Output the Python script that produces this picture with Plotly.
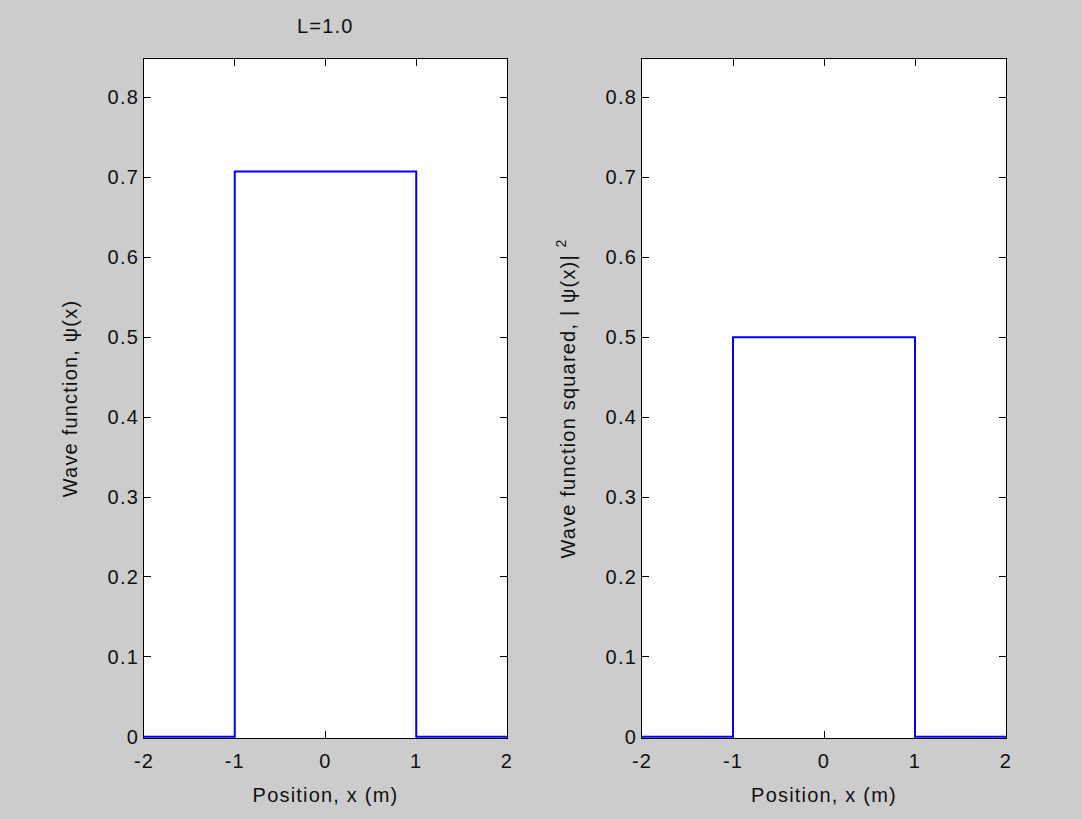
import plotly.graph_objects as go

x_vals = [-2, -1, -1, 1, 1, 2]
psi_vals = [0, 0, 0.7071, 0.7071, 0, 0]
psi_sq_vals = [0, 0, 0.5, 0.5, 0, 0]
x_ticks = [-2, -1, 0, 1, 2]
x_tick_labels = ["-2", "-1", "0", "1", "2"]
y_ticks = [0, 0.1, 0.2, 0.3, 0.4, 0.5, 0.6, 0.7, 0.8]
title_text = "L=1.0"
xlabel = "Position, x (m)"
ylabel_left = "Wave function, ψ(x)"
ylabel_right = "Wave function squared, | ψ(x)| <sup>2</sup>"

W, H = 1082, 819
L, R, T, B = 144, 76, 59, 81
pw = W - L - R
d1 = (507 - L) / pw
d2 = (642 - L) / pw
y_range = [-0.0015, 0.848]

fig = go.Figure()
fig.add_trace(go.Scatter(x=x_vals, y=psi_vals, mode="lines",
                         line=dict(color="#0000ff", width=2), xaxis="x", yaxis="y"))
fig.add_trace(go.Scatter(x=x_vals, y=psi_sq_vals, mode="lines",
                         line=dict(color="#0000ff", width=2), xaxis="x2", yaxis="y2"))

font = dict(family="Liberation Sans, Arial, sans-serif", size=20, color="#111111")
ax_common = dict(showline=True, linecolor="black", linewidth=1, mirror="ticks",
                 ticks="inside", ticklen=7, tickcolor="black", showgrid=False,
                 zeroline=False, tickfont=font, layer="below traces")

xa = dict(range=[-2, 2], tickvals=x_ticks, ticktext=x_tick_labels, ticklabelstandoff=5,
          title=dict(text=xlabel, font=font, standoff=16), **ax_common)

fig.update_layout(
    width=W, height=H,
    margin=dict(l=L, r=R, t=T, b=B),
    paper_bgcolor="#cccccc", plot_bgcolor="#ffffff",
    showlegend=False,
    font=font,
    xaxis=dict(domain=[0, d1], anchor="y", **xa),
    yaxis=dict(domain=[0, 1], range=y_range, tickvals=y_ticks, anchor="x",
               title=dict(text=ylabel_left, font=font, standoff=28), **ax_common),
    xaxis2=dict(domain=[d2, 1], anchor="y2", **xa),
    yaxis2=dict(domain=[0, 1], range=y_range, tickvals=y_ticks, anchor="x2",
                title=dict(text=ylabel_right, font=font, standoff=28), **ax_common),
    annotations=[dict(text=title_text, xref="x domain", yref="paper", x=0.5, y=1,
                      yshift=20, yanchor="bottom", showarrow=False, font=font)],
)

post = """
var s=document.createElement('style');
s.textContent='html,body{margin:0;padding:0;background:#cccccc;overflow:hidden} .main-svg text{letter-spacing:1.2px}';
document.head.appendChild(s);
"""
fig.write_html("out.html", post_script=post, config={"displayModeBar": False})
